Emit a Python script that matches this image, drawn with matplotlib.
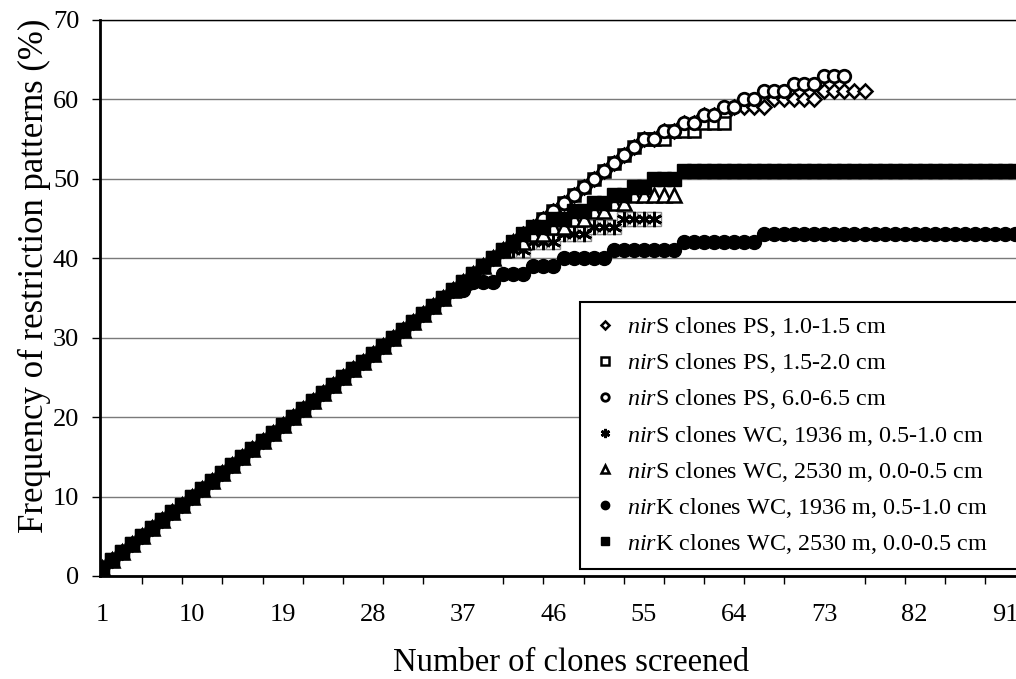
import numpy as np
import matplotlib
matplotlib.use("Agg")
import matplotlib.pyplot as plt

plt.rcParams['font.family'] = ['Liberation Serif', 'DejaVu Serif']
plt.rcParams['mathtext.fontset'] = 'custom'
plt.rcParams['mathtext.rm'] = 'Liberation Serif'
plt.rcParams['mathtext.it'] = 'Liberation Serif:italic'

# common start of every curve (clones 1-36)
diag = [1, 2, 3, 4, 5, 6, 7, 8, 9, 10, 11, 12, 13, 14, 15, 16, 17, 18,
        19, 20, 21, 22, 23, 24, 25, 26, 27, 28, 29, 30, 31, 32, 33, 34, 35, 36]

# values from clone 37 onward
ps_10_15 = [37, 38, 39, 40, 41, 42, 43, 44, 45, 46, 47, 48, 49, 50, 51, 52, 53, 54, 55,
            55, 56, 56, 57, 57, 58, 58, 58, 59, 59, 59, 59, 60, 60, 60, 60, 60, 61, 61, 61, 61, 61]
ps_15_20 = [37, 38, 39, 40, 41, 42, 43, 44, 45, 46, 47, 48, 49, 50, 51, 52, 53, 54, 55,
            55, 55, 56, 56, 56, 57, 57, 57]
ps_60_65 = [37, 38, 39, 40, 41, 42, 43, 44, 45, 46, 47, 48, 49, 50, 51, 52, 53, 54, 55,
            55, 56, 56, 57, 57, 58, 58, 59, 59, 60, 60, 61, 61, 61, 62, 62, 62, 63, 63, 63]
wc_1936_s = [37, 38, 39, 40, 41, 41, 41, 42, 42, 42, 43, 43, 43, 44, 44, 44, 45, 45, 45, 45]
wc_2530_s = [37, 38, 39, 40, 41, 42, 42, 43, 43, 44, 44, 45, 45, 46, 46, 47, 47,
             48, 48, 48, 48, 48]
wc_1936_k = [36, 37, 37, 37, 38, 38, 38, 39, 39, 39, 40, 40, 40, 40, 40,
             41, 41, 41, 41, 41, 41, 41, 42, 42, 42, 42, 42, 42, 42, 42,
             43, 43, 43, 43, 43, 43, 43, 43, 43, 43, 43, 43, 43, 43, 43, 43,
             43, 43, 43, 43, 43, 43, 43, 43, 43, 43]
wc_2530_k = [37, 38, 39, 40, 41, 42, 43, 44, 44, 45, 45, 46, 46, 47, 47, 48, 48, 49, 49,
             50, 50, 50, 51, 51, 51, 51, 51, 51, 51, 51, 51, 51, 51, 51, 51, 51, 51, 51,
             51, 51, 51, 51, 51, 51, 51, 51, 51, 51, 51, 51, 51, 51, 51, 51, 51, 51]

labels = [r'$\mathit{nir}$S clones PS, 1.0-1.5 cm',
          r'$\mathit{nir}$S clones PS, 1.5-2.0 cm',
          r'$\mathit{nir}$S clones PS, 6.0-6.5 cm',
          r'$\mathit{nir}$S clones WC, 1936 m, 0.5-1.0 cm',
          r'$\mathit{nir}$S clones WC, 2530 m, 0.0-0.5 cm',
          r'$\mathit{nir}$K clones WC, 1936 m, 0.5-1.0 cm',
          r'$\mathit{nir}$K clones WC, 2530 m, 0.0-0.5 cm']

xticklabels = ['1', '10', '19', '28', '37', '46', '55', '64', '73', '82', '91']

fig = plt.figure(figsize=(10.16, 6.79), dpi=100)
ax = fig.add_axes([100 / 1016, 103 / 679, 916 / 1016, 556 / 679])


def xy(tail):
    y = np.array(diag + tail)
    return np.arange(1, len(y) + 1), y


handles = []
x, y = xy(ps_10_15)
handles += ax.plot(x, y, 'D', ms=7.5, mfc='white', mec='black', mew=1.8, ls='none')
x, y = xy(ps_15_20)
handles += ax.plot(x, y, 's', ms=8.5, mfc='white', mec='black', mew=1.8, ls='none')
x, y = xy(ps_60_65)
handles += ax.plot(x, y, 'o', ms=9, mfc='white', mec='black', mew=2.0, ls='none')
x, y = xy(wc_1936_s)
ax.plot(x, y, 's', ms=10.5, mfc='white', mec='#8a8a8a', mew=1.0, ls='none')
handles += ax.plot(x, y, marker=(6, 2, 0), ms=11, color='black', mew=2.0, ls='none')
x, y = xy(wc_2530_s)
handles += ax.plot(x, y, '^', ms=9.5, mfc='white', mec='black', mew=1.8, ls='none')
x, y = xy(wc_1936_k)
handles += ax.plot(x, y, 'o', ms=10, color='black', ls='none')
x, y = xy(wc_2530_k)
handles += ax.plot(x, y, 's', ms=9.5, color='black', ls='none')

ax.set_xlim(0.8, 92.1)
ax.set_ylim(0, 70)
ax.set_yticks([0, 10, 20, 30, 40, 50, 60, 70])
ax.yaxis.grid(True, color='#7a7a7a', lw=1.0)
ax.set_axisbelow(True)

ax.set_xticks([1, 10, 19, 28, 37, 46, 55, 64, 73, 82, 91])
ax.set_xticklabels(xticklabels)
ax.set_xticks(np.arange(1, 92, 4), minor=True)
ax.tick_params(axis='x', which='major', length=0, pad=20, labelsize=19)
ax.tick_params(axis='x', which='minor', length=6, width=1, direction='out')
ax.tick_params(axis='y', length=6, width=1, direction='out', pad=9, labelsize=19)

for s in ['left', 'bottom']:
    ax.spines[s].set_linewidth(2)
ax.spines['top'].set_linewidth(1)
ax.spines['right'].set_visible(False)

ax.set_xlabel('Number of clones screened', fontsize=23.5)
ax.xaxis.set_label_coords(0.514, -0.128)
ax.set_ylabel('Frequency of restriction patterns (%)', fontsize=25)
ax.yaxis.set_label_coords(-0.053, 0.54)

leg = ax.legend(handles, labels, loc='upper left',
                bbox_to_anchor=(580 / 1016, 1 - 302 / 679 - 0.01, 520 / 1016, 0.01),
                bbox_transform=fig.transFigure, mode='expand',
                fontsize=17.4, markerscale=0.6, frameon=True, fancybox=False,
                edgecolor='black', framealpha=1, borderpad=0.55, labelspacing=0.5,
                handlelength=1.0, handletextpad=0.4, borderaxespad=0)
leg.get_frame().set_linewidth(1.5)

fig.savefig('out.png', dpi=100)
